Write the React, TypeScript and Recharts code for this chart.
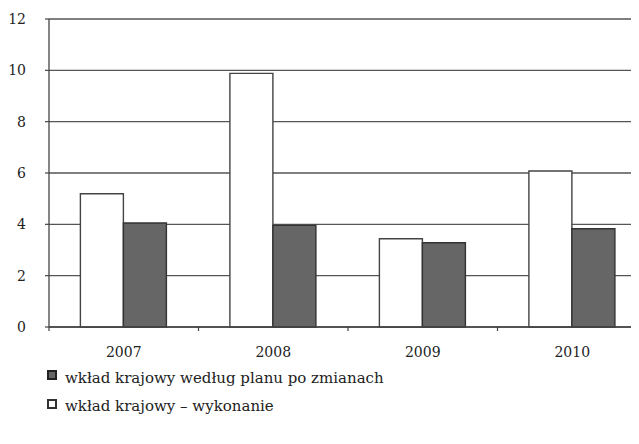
import { BarChart, Bar, XAxis, YAxis, CartesianGrid } from "recharts";

const YEARS = ["2007", "2008", "2009", "2010"];
const WYKONANIE = [5.19, 9.88, 3.44, 6.08];
const PLAN = [4.05, 3.96, 3.28, 3.83];
const Y_TICKS = [0, 2, 4, 6, 8, 10, 12];

const data = YEARS.map((year, i) => ({
  year,
  wykonanie: WYKONANIE[i],
  plan: PLAN[i],
}));

const FONT = '"DejaVu Serif", serif';
const BAND = 149.5;

// eslint-disable-next-line @typescript-eslint/no-explicit-any
function XTick({ x, y, payload }: any) {
  return (
    <g>
      <line x1={x - BAND / 2} x2={x - BAND / 2} y1={y} y2={y + 4} stroke="#444" strokeWidth={1.2} />
      <text x={x} y={y + 30} textAnchor="middle" fontSize={14} fill="#222" style={{ fontFamily: FONT }}>
        {payload.value}
      </text>
    </g>
  );
}

export default function App() {
  return (
    <div
      style={{
        margin: -8,
        width: 639,
        height: 444,
        overflow: "hidden",
        position: "relative",
        background: "#fff",
        fontFamily: FONT,
      }}
    >
      <BarChart
        width={647}
        height={365}
        data={data}
        margin={{ top: 19, right: 0, left: 0, bottom: 0 }}
        barGap={0}
        barCategoryGap="21%"
        style={{ fontFamily: FONT }}
      >
        <CartesianGrid vertical={false} stroke="#555" strokeWidth={1.3} />
        <XAxis
          dataKey="year"
          height={38}
          tickSize={0}
          tickMargin={0}
          tick={<XTick />}
          axisLine={{ stroke: "#444", strokeWidth: 1.3 }}
          tickLine={false}
        />
        <YAxis
          domain={[0, 12]}
          ticks={Y_TICKS}
          width={49}
          tickSize={4}
          tickMargin={19}
          tick={{ fontSize: 14, fill: "#222", style: { fontFamily: FONT } }}
          axisLine={{ stroke: "#444", strokeWidth: 1.3 }}
          tickLine={{ stroke: "#444", strokeWidth: 1.2 }}
        />
        <Bar dataKey="wykonanie" fill="#ffffff" stroke="#444" strokeWidth={1.4} isAnimationActive={false} />
        <Bar dataKey="plan" fill="#666666" stroke="#333" strokeWidth={1.4} isAnimationActive={false} />
      </BarChart>

      {/* legend */}
      <span
        style={{
          position: "absolute", left: 47, top: 370, width: 6, height: 6,
          background: "#666", border: "2px solid #222",
        }}
      />
      <span style={{ position: "absolute", left: 65, top: 369, fontSize: 15, color: "#222", whiteSpace: "nowrap" }}>
        wkład krajowy według planu po zmianach
      </span>
      <span
        style={{
          position: "absolute", left: 47, top: 399, width: 6, height: 6,
          background: "#fff", border: "2px solid #333",
        }}
      />
      <span style={{ position: "absolute", left: 65, top: 397, fontSize: 15, color: "#222", whiteSpace: "nowrap" }}>
        wkład krajowy – wykonanie
      </span>
    </div>
  );
}
